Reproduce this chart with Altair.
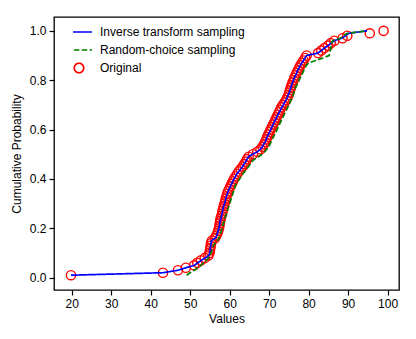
import altair as alt
import pandas as pd

series_names = ["Inverse transform sampling", "Random-choice sampling", "Original"]
series_colors = ["#0000ff", "#008000", "#ff0000"]

original_vals = [
    19.8, 43.1, 46.9, 48.9, 51.0, 51.8, 52.7, 53.7, 54.6, 54.9,
    55.0, 55.1, 55.2, 55.3, 55.5, 56.3, 56.6, 56.9, 57.1, 57.3,
    57.4, 57.5, 57.6, 57.7, 57.9, 58.1, 58.2, 58.4, 58.5, 58.7,
    58.9, 59.0, 59.2, 59.4, 59.6, 59.9, 60.2, 60.5, 60.8, 61.1,
    61.5, 61.9, 62.3, 62.8, 63.3, 63.7, 64.1, 64.4, 64.8, 65.9,
    67.0, 67.8, 68.3, 68.7, 69.0, 69.3, 69.5, 69.8, 70.1, 70.4,
    70.7, 71.0, 71.3, 71.6, 71.9, 72.2, 72.5, 72.8, 73.1, 73.5,
    73.9, 74.3, 74.6, 74.9, 75.1, 75.3, 75.5, 75.7, 75.9, 76.2,
    76.4, 76.7, 77.0, 77.3, 77.6, 77.9, 78.3, 78.7, 79.1, 79.5,
    82.4, 83.2, 84.0, 84.9, 85.6, 86.5, 88.6, 89.8, 95.5, 99.0,
]

inverse_vals = [
    19.8, 43.1, 46.9, 48.9, 51.1, 51.9, 52.8, 53.8, 54.7, 55.0,
    55.0, 55.1, 55.2, 55.3, 55.4, 56.4, 56.7, 56.9, 57.1, 57.3,
    57.4, 57.5, 57.6, 57.8, 57.9, 58.1, 58.2, 58.3, 58.5, 58.7,
    58.9, 59.0, 59.2, 59.4, 59.6, 59.9, 60.2, 60.5, 60.8, 61.1,
    61.5, 61.8, 62.3, 62.8, 63.3, 63.6, 64.1, 64.4, 64.8, 65.8,
    67.0, 67.8, 68.3, 68.6, 69.0, 69.3, 69.5, 69.8, 70.1, 70.4,
    70.7, 71.0, 71.3, 71.6, 71.9, 72.2, 72.6, 72.9, 73.2, 73.6,
    73.9, 74.3, 74.6, 74.8, 75.1, 75.3, 75.5, 75.7, 75.9, 76.2,
    76.4, 76.7, 77.0, 77.2, 77.6, 77.9, 78.3, 78.7, 79.1, 79.5,
    82.4, 83.2, 84.0, 84.9, 85.7, 86.5, 88.4, 89.4, 90.2, 94.8,
]

random_choice_vals = [
    49.1, 50.0, 51.0, 51.9, 52.7, 53.4, 54.1, 54.6, 55.0, 55.3,
    55.5, 55.7, 55.9, 56.3, 56.9, 57.3, 57.5, 57.7, 57.9, 58.1,
    58.3, 58.4, 58.6, 58.8, 59.0, 59.2, 59.4, 59.6, 59.8, 60.0,
    60.2, 60.4, 60.6, 60.8, 61.0, 61.2, 61.4, 61.7, 62.1, 62.5,
    62.9, 63.3, 63.8, 64.3, 64.8, 65.2, 65.6, 66.3, 67.3, 68.2,
    68.9, 69.4, 69.8, 70.2, 70.5, 70.8, 71.1, 71.4, 71.7, 72.0,
    72.3, 72.6, 72.9, 73.2, 73.5, 73.8, 74.1, 74.4, 74.7, 75.0,
    75.3, 75.6, 75.9, 76.1, 76.3, 76.5, 76.7, 77.0, 77.3, 77.6,
    77.9, 78.2, 78.5, 78.8, 79.1, 79.4, 80.0, 81.8, 83.6, 85.2,
    85.4, 85.5, 85.6, 85.7, 85.8, 86.1, 88.0, 88.8, 89.8, 94.7,
]

cum_prob = [(i + 1) / 100 for i in range(100)]

x_ticks = [20, 30, 40, 50, 60, 70, 80, 90, 100]
y_ticks = [0.0, 0.2, 0.4, 0.6, 0.8, 1.0]

lines_df = pd.concat([
    pd.DataFrame({"value": inverse_vals, "p": cum_prob, "series": series_names[0]}),
    pd.DataFrame({"value": random_choice_vals, "p": cum_prob, "series": series_names[1]}),
])
orig_df = pd.DataFrame({"value": original_vals, "p": cum_prob, "series": series_names[2]})

FONT = "Liberation Sans"
LEG_LINE = "M-2.75,0L2.75,0"

x_enc = alt.X("value:Q", title="Values",
              scale=alt.Scale(domain=[15.5, 102.9], nice=False, zero=False),
              axis=alt.Axis(values=x_ticks, format="d"))
y_enc = alt.Y("p:Q", title="Cumulative Probability",
              scale=alt.Scale(domain=[-0.05, 1.056], nice=False, zero=False),
              axis=alt.Axis(values=y_ticks, format=".1f"))

color_scale = alt.Scale(domain=series_names, range=series_colors)
dash_scale = alt.Scale(domain=series_names, range=[[1, 0], [5.5, 2.4], [1, 0]])
shape_scale = alt.Scale(domain=series_names, range=[LEG_LINE, LEG_LINE, "circle"])

legend = alt.Legend(title=None)

points = alt.Chart(orig_df).mark_point(filled=False, size=85, strokeWidth=1.4, opacity=1).encode(
    x=x_enc, y=y_enc,
    color=alt.Color("series:N", scale=color_scale, legend=legend),
    shape=alt.Shape("series:N", scale=shape_scale, legend=legend),
)

lines = alt.Chart(lines_df).mark_line(strokeWidth=1.7).encode(
    x=x_enc, y=y_enc,
    color=alt.Color("series:N", scale=color_scale, legend=legend),
    strokeDash=alt.StrokeDash("series:N", scale=dash_scale, legend=legend),
    order="p:Q",
)

chart = alt.layer(points, lines).properties(
    width=345, height=273,
    autosize=alt.AutoSizeParams(type="none"),
    padding={"left": 46, "top": 9, "right": 9, "bottom": 40},
).configure_view(
    stroke="black", strokeWidth=1.3,
).configure_axis(
    grid=False, domain=False, tickColor="black", tickSize=5, tickWidth=1.2,
    labelFont=FONT, labelFontSize=12, labelColor="black", labelPadding=3,
    titleFont=FONT, titleFontSize=12, titleColor="black", titleFontWeight="normal",
).configure_axisX(titlePadding=4).configure_axisY(titlePadding=6).configure_legend(
    orient="none", legendX=19, legendY=9,
    labelFont=FONT, labelFontSize=12, labelColor="black",
    symbolSize=90, symbolStrokeWidth=1.7, rowPadding=6, clipHeight=12,
    labelOffset=15, padding=0,
)

chart.save("out.html", embed_options={"renderer": "svg", "actions": False})
